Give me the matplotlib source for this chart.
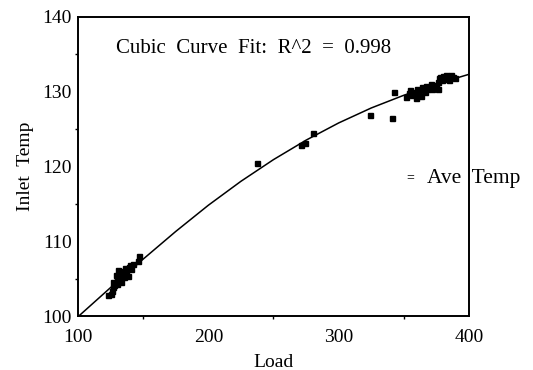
import matplotlib
matplotlib.use('Agg')
import matplotlib.pyplot as plt
import matplotlib.ticker as mticker

plt.rcParams['font.family'] = ['Liberation Serif', 'DejaVu Serif']

# Measured points (Load vs Inlet Temp)
load = [123, 125, 126, 127, 127, 128, 129, 129, 130, 130, 131, 131, 132, 133, 133,
        134, 135, 136, 137, 138, 139, 140, 141, 142, 146, 147,
        237, 271, 274, 280, 324, 341, 342.5,
        352, 354, 355, 356, 358, 359, 360, 361, 362, 363, 364, 366, 367, 368,
        370, 371, 372, 373, 375, 376, 376, 377, 378, 379, 380, 381, 382, 383,
        384, 385, 386, 388, 389]
temp = [102.8, 103.0, 103.3, 103.9, 104.5, 104.2, 104.6, 105.5, 105.0, 104.3, 106.2,
        105.5, 105.0, 105.8, 104.6, 106.0, 105.2, 106.4, 106.0, 105.4, 106.6, 106.8,
        106.3, 107.0, 107.3, 108.0,
        120.5, 122.9, 123.1, 124.4, 126.8, 126.5, 130.0,
        129.3, 129.8, 130.2, 129.5, 130.0, 129.2, 130.4, 129.7, 130.2, 129.4, 130.6,
        130.0, 130.8, 130.3, 130.6, 131.0, 130.4, 130.9, 130.7, 131.3, 130.3, 131.8,
        132.0, 131.5, 132.1, 131.7, 132.2, 131.9, 132.0, 131.6, 132.2, 132.0, 131.8]

# Cubic fit curve
fit_load = [100, 125, 150, 175, 200, 225, 250, 275, 300, 325, 350, 375, 400]
fit_temp = [99.9, 103.8, 107.6, 111.3, 114.8, 118.0, 120.9, 123.5, 125.8, 127.8,
            129.5, 131.0, 132.3]

fig = plt.figure(figsize=(5.33, 3.7), dpi=100)
ax = fig.add_axes([0.1463, 0.1459, 0.7336, 0.809])

ax.plot(fit_load, fit_temp, color='black', lw=1.1, zorder=3)
ax.plot(load, temp, linestyle='none', marker='s', ms=3.6, color='black', zorder=4)

ax.set_xlim(100, 400)
ax.set_ylim(100, 140)
ax.xaxis.set_major_locator(mticker.MultipleLocator(100))
ax.xaxis.set_minor_locator(mticker.MultipleLocator(50))
ax.yaxis.set_major_locator(mticker.MultipleLocator(10))
ax.yaxis.set_minor_locator(mticker.MultipleLocator(5))
ax.tick_params(which='major', direction='out', length=0, labelsize=14)
ax.tick_params(axis='x', which='major', pad=9)
ax.tick_params(axis='y', which='major', pad=4.5)
ax.tick_params(which='minor', direction='out', length=2.5, width=1)

for s in ax.spines.values():
    s.set_linewidth(1.4)

ax.set_xlabel('Load', fontsize=14, labelpad=6)
ax.set_ylabel('Inlet  Temp', fontsize=14, labelpad=6)

ax.text(0.097, 0.895, 'Cubic  Curve  Fit:  R^2  =  0.998', transform=ax.transAxes,
        fontsize=15, va='center', ha='left')

# legend entry, cut by the right frame as in the original
ax.text(0.84, 0.461, '=', transform=ax.transAxes, fontsize=10,
        va='center', ha='left', clip_on=False, zorder=2)
ax.text(0.893, 0.461, 'Ave  Temp', transform=ax.transAxes, fontsize=15.5,
        va='center', ha='left', clip_on=False, zorder=2)

fig.savefig('out.png', dpi=100)
